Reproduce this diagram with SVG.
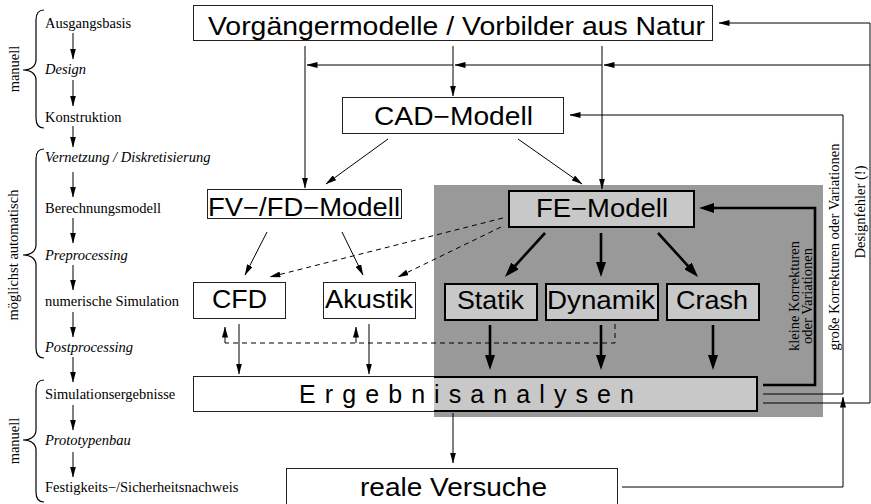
<svg xmlns="http://www.w3.org/2000/svg" width="871" height="504" viewBox="0 0 871 504">
  <defs>
    <style>
      .box { fill: #fff; stroke: #222; stroke-width: 1; }
      .gbox { fill: #c8c8c8; stroke: #000; stroke-width: 2; }
      .lbl { font-family: "Liberation Sans", Arial, sans-serif; font-size: 25px; fill: #000; }
      .note { font-family: "Liberation Serif", "Times New Roman", serif; font-size: 14.5px; fill: #000; }
      .it { font-style: italic; }
      .ln { fill: none; stroke: #000; stroke-width: 1; }
      .thick { stroke-width: 2.6; }
      .dash { stroke-dasharray: 5 4; }
      .brace { fill: none; stroke: #000; stroke-width: 1.2; }
    </style>
    <marker id="ah" markerUnits="userSpaceOnUse" markerWidth="11" markerHeight="6" refX="10.5" refY="3" orient="auto">
      <path d="M0,0 L11,3 L0,6 z" fill="#000"/>
    </marker>
    <marker id="ahk" markerUnits="userSpaceOnUse" markerWidth="15" markerHeight="10" refX="6" refY="5" orient="auto">
      <path d="M0,0 L15,5 L0,10 z" fill="#000"/>
    </marker>
  </defs>

  <!-- shaded FE area -->
  <rect id="fe-area" x="434" y="185" width="389" height="232" fill="#999"/>

  <!-- process phases on the left -->
  <g id="phases">
    <path class="brace" d="M44,10 C38,10 36,14 36,20 V60 C36,66 31,70 23,70 C31,70 36,74 36,80 V118 C36,124 38,128 44,128"/>
    <path class="brace" d="M44,149 C38,149 36,153 36,159 V245 C36,251 31,255 23,255 C31,255 36,259 36,265 V348 C36,354 38,358 44,358"/>
    <path class="brace" d="M44,380 C38,380 36,384 36,390 V430 C36,436 31,440 23,440 C31,440 36,444 36,450 V492 C36,498 38,502 44,502"/>
    <text class="note" text-anchor="middle" transform="translate(19,69) rotate(-90)">manuell</text>
    <text class="note" text-anchor="middle" transform="translate(18,255) rotate(-90)">möglichst automatisch</text>
    <text class="note" text-anchor="middle" transform="translate(19,441) rotate(-90)">manuell</text>

    <text class="note" x="45" y="28">Ausgangsbasis</text>
    <text class="note it" x="45" y="74">Design</text>
    <text class="note" x="45" y="122">Konstruktion</text>
    <text class="note it" x="45" y="162">Vernetzung / Diskretisierung</text>
    <text class="note" x="45" y="213">Berechnungsmodell</text>
    <text class="note it" x="45" y="260">Preprocessing</text>
    <text class="note" x="45" y="306">numerische Simulation</text>
    <text class="note it" x="45" y="352">Postprocessing</text>
    <text class="note" x="45" y="399">Simulationsergebnisse</text>
    <text class="note it" x="45" y="445">Prototypenbau</text>
    <text class="note" x="45" y="492">Festigkeits−/Sicherheitsnachweis</text>

    <g class="ln" marker-end="url(#ah)">
      <path d="M73,33 V59"/>
      <path d="M73,80 V106"/>
      <path d="M73,126 V147"/>
      <path d="M73,172 V197"/>
      <path d="M73,218 V243"/>
      <path d="M73,265 V290"/>
      <path d="M73,312 V337"/>
      <path d="M73,357 V382"/>
      <path d="M73,405 V430"/>
      <path d="M73,452 V477"/>
    </g>
  </g>

  <!-- nodes -->
  <g id="vorbilder">
    <rect class="box" x="193.5" y="5.5" width="519" height="35"/>
    <text class="lbl" x="208" y="35" font-size="27" textLength="497" lengthAdjust="spacingAndGlyphs">Vorgängermodelle / Vorbilder aus Natur</text>
  </g>
  <g id="cad">
    <rect class="box" x="342.5" y="97.5" width="221" height="36"/>
    <text class="lbl" x="374" y="125" textLength="159" lengthAdjust="spacingAndGlyphs">CAD−Modell</text>
  </g>
  <g id="fvfd">
    <rect class="box" x="207.5" y="189.5" width="194" height="29"/>
    <text class="lbl" x="208" y="216" textLength="192" lengthAdjust="spacingAndGlyphs">FV−/FD−Modell</text>
  </g>
  <g id="cfd">
    <rect class="box" x="193.5" y="282.5" width="92" height="36"/>
    <text class="lbl" x="212" y="308" textLength="55" lengthAdjust="spacingAndGlyphs">CFD</text>
  </g>
  <g id="akustik">
    <rect class="box" x="323.5" y="282.5" width="92" height="36"/>
    <text class="lbl" x="325" y="308" textLength="88" lengthAdjust="spacingAndGlyphs">Akustik</text>
  </g>
  <g id="fe">
    <rect class="gbox" x="509" y="191" width="185" height="36"/>
    <text class="lbl" x="536" y="217" textLength="132" lengthAdjust="spacingAndGlyphs">FE−Modell</text>
  </g>
  <g id="statik">
    <rect class="gbox" x="445" y="284" width="92" height="36"/>
    <text class="lbl" x="457" y="309" textLength="67" lengthAdjust="spacingAndGlyphs">Statik</text>
  </g>
  <g id="dynamik">
    <rect class="gbox" x="546" y="284" width="112" height="36"/>
    <text class="lbl" x="547" y="309" textLength="108" lengthAdjust="spacingAndGlyphs">Dynamik</text>
  </g>
  <g id="crash">
    <rect class="gbox" x="667" y="284" width="92" height="36"/>
    <text class="lbl" x="676" y="309" textLength="72" lengthAdjust="spacingAndGlyphs">Crash</text>
  </g>
  <g id="ergebnisanalysen">
    <rect class="box" x="193.5" y="376.5" width="564" height="35"/>
    <rect x="434" y="377" width="323" height="34" fill="#c8c8c8"/>
    <path d="M434,377 H757 V411 H434" fill="none" stroke="#000" stroke-width="2"/>
    <text class="lbl" x="299" y="403" font-size="21" textLength="335" lengthAdjust="spacing">Ergebnisanalysen</text>
  </g>
  <g id="versuche">
    <rect class="box" x="286.5" y="468.5" width="331" height="40"/>
    <text class="lbl" x="360" y="496" textLength="187" lengthAdjust="spacingAndGlyphs">reale Versuche</text>
  </g>

  <!-- feedback labels -->
  <g id="feedback-labels">
    <text class="note" text-anchor="middle" transform="translate(799,296) rotate(-90)">kleine Korrekturen</text>
    <text class="note" text-anchor="middle" transform="translate(812,296) rotate(-90)">oder Variationen</text>
    <text class="note" text-anchor="middle" transform="translate(839,247) rotate(-90)">große Korrekturen oder Variationen</text>
    <text class="note" text-anchor="middle" transform="translate(865,212) rotate(-90)">Designfehler (!)</text>
  </g>

  <!-- connectors -->
  <g id="connectors">
    <g class="ln" marker-end="url(#ah)">
      <path d="M305,46 V188"/>
      <path d="M453,46 V96"/>
      <path d="M602,46 V189"/>
      <path d="M870,65 H604"/>
      <path d="M602,65 H455"/>
      <path d="M453,65 H307"/>
      <path d="M763,403 H870 V23 H719"/>
      <path d="M763,394 H843 V115 H570"/>
      <path d="M622,487 H843 V397"/>
      <path d="M388,139 L326,184"/>
      <path d="M518,139 L582,184"/>
      <path d="M267,232 L245,275"/>
      <path d="M342,232 L363,275"/>
      <path d="M239,324 V374"/>
      <path d="M369,324 V374"/>
      <path d="M453,413 V463"/>
      <path class="dash" d="M503,218 L270,277"/>
      <path class="dash" d="M501,227 L398,277"/>
      <path d="M225,343 V327"/>
      <path d="M356,343 V327"/>
    </g>
    <path class="ln dash" d="M615,324 V343 H225"/>
    <g class="ln thick" marker-end="url(#ahk)">
      <path d="M545,233 L511,270.3"/>
      <path d="M601,233 V268"/>
      <path d="M658,233 L692,270.3"/>
      <path d="M490,325 V361"/>
      <path d="M601,325 V361"/>
      <path d="M713,325 V361"/>
      <path d="M763,385 H815 V208 H708"/>
    </g>
  </g>
</svg>
